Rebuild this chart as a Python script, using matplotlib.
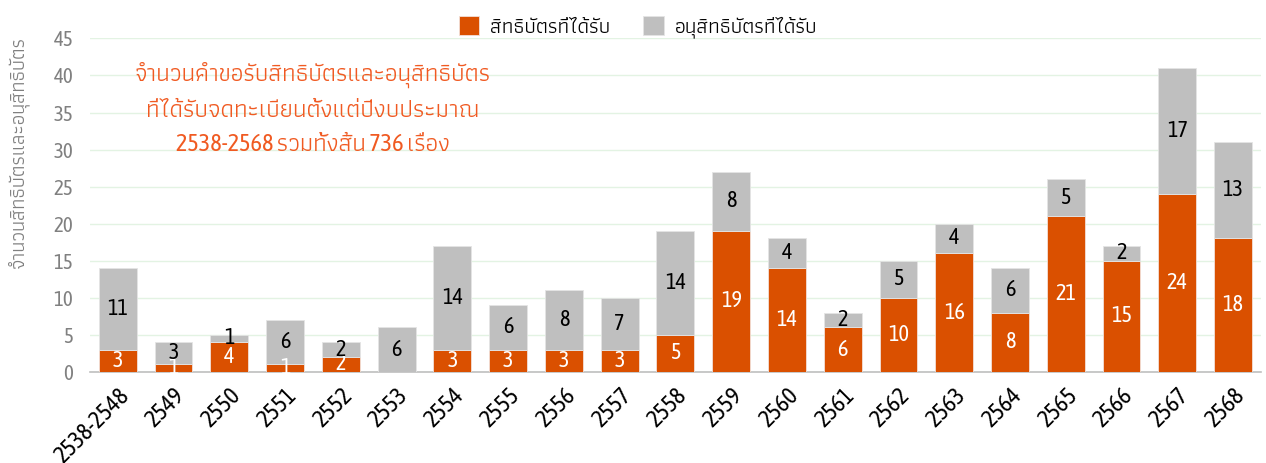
import numpy as np
import matplotlib
matplotlib.use("Agg")
import matplotlib.pyplot as plt
from matplotlib.transforms import ScaledTranslation

years = ["2538-2548", "2549", "2550", "2551", "2552", "2553", "2554", "2555",
         "2556", "2557", "2558", "2559", "2560", "2561", "2562", "2563",
         "2564", "2565", "2566", "2567", "2568"]
patents = [3, 1, 4, 1, 2, 0, 3, 3, 3, 3, 5, 19, 14, 6, 10, 16, 8, 21, 15, 24, 18]
petty = [11, 3, 1, 6, 2, 6, 14, 6, 8, 7, 14, 8, 4, 2, 5, 4, 6, 5, 2, 17, 13]

series_names = ["สิทธิบัตรที่ได้รับ", "อนุสิทธิบัตรที่ได้รับ"]
ylabel = "จำนวนสิทธิบัตรและอนุสิทธิบัตร"
note = ("จำนวนคำขอรับสิทธิบัตรและอนุสิทธิบัตร\n"
        "ที่ได้รับจดทะเบียนตั้งแต่ปีงบประมาณ\n"
        "2538-2568 รวมทั้งสิ้น 736 เรื่อง")

# narrow latin font for the digits, Thai glyphs fall back to Athiti
plt.rcParams["font.family"] = ["Asap Condensed", "Athiti", "DejaVu Sans"]

orange = "#DA5000"
grey = "#BFBFBF"

fig = plt.figure(figsize=(12.66, 4.63), dpi=100)
ax = fig.add_axes([0.071, 0.197, 0.925, 0.72])

x = np.arange(len(years))
w = 0.68
ax.bar(x, patents, w, color=orange, edgecolor="#F2E0D8", linewidth=0.6,
       label=series_names[0], zorder=3)
ax.bar(x, petty, w, bottom=patents, color=grey, edgecolor="#E4E4E4",
       linewidth=0.6, label=series_names[1], zorder=3)

for i in range(len(years)):
    if patents[i] > 0:
        ax.text(x[i], patents[i] / 2, str(patents[i]), ha="center",
                va="center", color="white", fontsize=16, zorder=4)
    if petty[i] > 0:
        ax.text(x[i], patents[i] + petty[i] / 2, str(petty[i]), ha="center",
                va="center", color="black", fontsize=16, zorder=4)

ax.set_xlim(-0.5, len(years) - 0.5)
ax.set_ylim(0, 45)
ax.set_yticks(range(0, 46, 5))
ax.grid(axis="y", color="#E3F3E3", linewidth=1, zorder=0)
ax.set_xticks(x)
ax.set_xticklabels(years, rotation=45, ha="right", rotation_mode="anchor",
                   fontsize=17)
shift = ScaledTranslation(14 / 100, 0, fig.dpi_scale_trans)
for lab in ax.get_xticklabels():
    lab.set_transform(lab.get_transform() + shift)
ax.tick_params(axis="y", colors="#808080", labelsize=15, length=0, pad=12)
ax.tick_params(axis="x", length=0, pad=9)
for s in ["top", "right", "left"]:
    ax.spines[s].set_visible(False)
ax.spines["bottom"].set_color("#BFBFBF")
ax.spines["bottom"].set_linewidth(1.2)

ax.set_ylabel(ylabel, color="#7F7F7F", fontsize=14.5)
ax.yaxis.set_label_coords(-0.052, 0.66)

ax.text(3.5, 41.8, note, ha="center", va="top", color="#F05A22", fontsize=17.5,
        linespacing=1.6)

ax.legend(loc="lower center", bbox_to_anchor=(0.468, 0.975), ncol=2,
          frameon=False, fontsize=15, handlelength=1.0, handleheight=1.0,
          columnspacing=1.6, handletextpad=0.5, borderaxespad=0)

fig.savefig("out.png", dpi=100)
